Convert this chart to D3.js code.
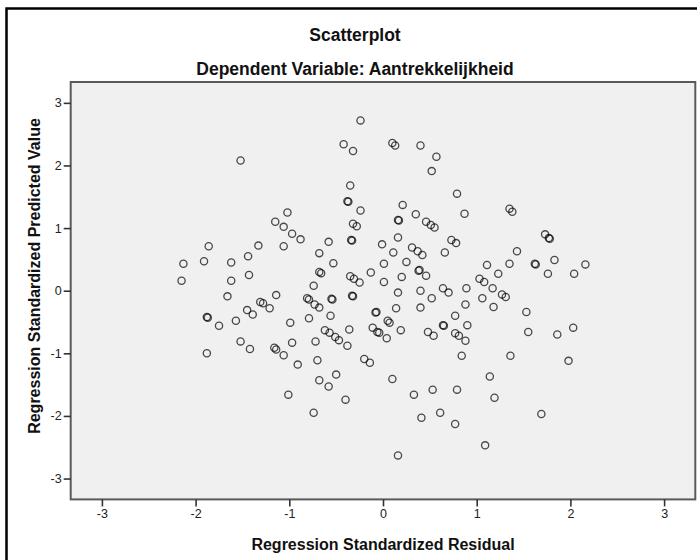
<!DOCTYPE html>
<html>
<head>
<meta charset="utf-8">
<script src="https://cdn.jsdelivr.net/npm/d3@7"></script>
<style>
  body { margin: 0; background: #fff; }
  svg { display: block; font-family: "Liberation Sans", Arial, sans-serif; }
</style>
</head>
<body>
<svg id="chart" width="697" height="560"></svg>
<script>
// residuals (x) and predicted values (y)
const residual = [
  -1.52, -1.86, -1.33, -2.13, -1.91, -1.62, -1.44, -2.15, -1.62, -1.43,
  -1.66, -1.31, -1.28, -1.21, -1.88, -1.87, -1.75, -1.57, -1.45, -1.39,
  -1.52, -1.42, -1.88,
  -1.14, -0.81, -0.79, -0.73, -0.68, -0.55, -0.54, -0.33, -0.32, -0.99,
  -0.79, -0.56, -0.62, -0.57, -0.51, -0.47, -0.36, -0.38, -0.97, -1.16,
  -1.14, -1.06, -0.91, -0.72, -0.70, -0.50, -0.68, -0.58, -1.01, -0.40,
  -0.74, -0.20, -0.14, -0.11, -0.08, -0.07, -0.06, -0.04, 0.04, 0.05,
  0.07, 0.14, 0.16, 0.19, 0.10, 0.16, 0.33, 0.41, 0.53, 0.61,
  0.77, 0.79, 0.84, 0.40, 0.48, 0.54, 0.52, 0.40, 0.64, 0.65,
  0.77, 0.77, 0.81, 0.88, 0.88, 0.90, 0.64, 0.70, 0.89,
  1.06, 1.18, 1.17, 1.27, 1.31, 1.53, 1.55, 1.36, 1.86, 2.03,
  1.98, 1.14, 1.19, 1.69, 1.09,
  1.35, 1.38, 1.43, 1.73, 1.78, 1.77, 1.11, 1.35, 1.63, 1.62,
  1.83, 2.16, 1.23, 1.76, 2.04, 1.03, 1.08,
  -0.24, -0.42, -0.32, 0.10, 0.13, 0.40, 0.57, 0.52, -0.35, -0.38,
  -0.37, -0.24, 0.21, 0.79, 0.87, 0.35, 0.46, 0.51, 0.55, 0.16,
  0.17, -0.32, -0.28, -1.02, -1.15, -1.06, -0.97, -0.88, -1.06, -0.34,
  -0.33, -0.58, -0.68, -0.53, -0.68, -0.66, -0.74, -0.35, -0.31, -0.25,
  -0.13, -0.01, 0.11, 0.16, 0.01, 0.01, 0.25, 0.20, 0.31, 0.37,
  0.42, 0.66, 0.39, 0.38, 0.46, 0.73, 0.78
];
const predicted = [
  2.08, 0.71, 0.72, 0.43, 0.47, 0.45, 0.55, 0.16, 0.16, 0.25,
  -0.09, -0.18, -0.20, -0.28, -0.42, -0.43, -0.56, -0.48, -0.31, -0.38,
  -0.81, -0.93, -1.00,
  -0.07, -0.12, -0.14, -0.22, -0.27, -0.13, -0.14, -0.08, -0.09, -0.51,
  -0.44, -0.40, -0.63, -0.67, -0.74, -0.79, -0.62, -0.88, -0.83, -0.91,
  -0.94, -1.03, -1.18, -0.81, -1.11, -1.34, -1.43, -1.53, -1.66, -1.74,
  -1.95, -1.09, -1.15, -0.59, -0.35, -0.34, -0.66, -0.67, -0.76, -0.48,
  -0.51, -0.28, -0.03, -0.63, -1.41, -2.63, -1.66, -2.03, -1.58, -1.95,
  -2.13, -1.58, -1.04, -0.27, -0.66, -0.72, -0.12, 0.00, -0.55, -0.56,
  -0.40, -0.68, -0.72, -0.80, -0.22, -0.55, 0.04, -0.03, 0.04,
  -0.12, -0.26, 0.04, -0.06, -0.10, -0.34, -0.66, -1.04, -0.70, -0.59,
  -1.12, -1.37, -1.71, -1.97, -2.47,
  1.31, 1.26, 0.63, 0.90, 0.83, 0.84, 0.41, 0.43, 0.42, 0.43,
  0.49, 0.42, 0.27, 0.27, 0.27, 0.19, 0.14,
  2.72, 2.34, 2.23, 2.36, 2.32, 2.32, 2.14, 1.91, 1.68, 1.43,
  1.42, 1.28, 1.37, 1.55, 1.23, 1.22, 1.10, 1.05, 1.01, 1.13,
  1.12, 1.07, 1.03, 1.25, 1.10, 1.02, 0.91, 0.82, 0.71, 0.81,
  0.80, 0.78, 0.60, 0.44, 0.30, 0.28, 0.08, 0.23, 0.19, 0.13,
  0.29, 0.74, 0.61, 0.85, 0.43, 0.14, 0.46, 0.22, 0.69, 0.63,
  0.57, 0.61, 0.33, 0.32, 0.24, 0.81, 0.76
];
const xTicks = [-3, -2, -1, 0, 1, 2, 3];
const yTicks = [-3, -2, -1, 0, 1, 2, 3];

const svg = d3.select("#chart");

// plot area
const plotLeft = 70.7, plotRight = 695.3, plotTop = 82.0, plotBottom = 499.4;

const x = d3.scaleLinear().domain([-3.333, 3.333]).range([plotLeft, plotRight]);
const y = d3.scaleLinear().domain([-3.333, 3.333]).range([plotBottom, plotTop]);

// outer frame (cropped on the right and bottom)
svg.append("rect")
  .attr("x", 6.5).attr("y", 8.5)
  .attr("width", 720).attr("height", 600)
  .attr("fill", "#fff")
  .attr("stroke", "#000")
  .attr("stroke-width", 2.5);

// titles
svg.append("text")
  .attr("x", 355).attr("y", 40.5)
  .attr("text-anchor", "middle")
  .attr("font-size", 17.5).attr("font-weight", "bold").attr("fill", "#111")
  .text("Scatterplot");
svg.append("text")
  .attr("x", 355).attr("y", 75)
  .attr("text-anchor", "middle")
  .attr("font-size", 17.5).attr("font-weight", "bold").attr("fill", "#111")
  .text("Dependent Variable: Aantrekkelijkheid");

// plot background
svg.append("rect")
  .attr("x", plotLeft).attr("y", plotTop)
  .attr("width", plotRight - plotLeft).attr("height", plotBottom - plotTop)
  .attr("fill", "#f0f0f0")
  .attr("stroke", "#5a5a5a")
  .attr("stroke-width", 2);

// axes (plain hyphen minus like SPSS)
const fmt = (d) => String(d);
const xAxis = svg.append("g")
  .attr("transform", `translate(0,${plotBottom})`)
  .call(d3.axisBottom(x).tickValues(xTicks).tickFormat(fmt)
    .tickSize(7).tickPadding(3).tickSizeOuter(0));
const yAxis = svg.append("g")
  .attr("transform", `translate(${plotLeft},0)`)
  .call(d3.axisLeft(y).tickValues(yTicks).tickFormat(fmt)
    .tickSize(7).tickPadding(2).tickSizeOuter(0));

[xAxis, yAxis].forEach((g) => {
  g.select(".domain").remove();
  g.selectAll(".tick line").attr("stroke", "#333").attr("stroke-width", 1.6);
  g.selectAll(".tick text")
    .attr("fill", "#222")
    .attr("font-size", 12.5)
    .attr("font-family", "Liberation Sans, Arial, sans-serif");
});

// axis titles
svg.append("text")
  .attr("x", 383).attr("y", 550)
  .attr("text-anchor", "middle")
  .attr("font-size", 16).attr("font-weight", "bold").attr("fill", "#111")
  .text("Regression Standardized Residual");
svg.append("text")
  .attr("transform", "translate(40,276) rotate(-90)")
  .attr("text-anchor", "middle")
  .attr("font-size", 16).attr("font-weight", "bold").attr("fill", "#111")
  .text("Regression Standardized Predicted Value");

// points
const points = residual.map((r, i) => ({ r: r, p: predicted[i] }));
svg.append("g")
  .selectAll("circle")
  .data(points)
  .join("circle")
  .attr("cx", (d) => x(d.r))
  .attr("cy", (d) => y(d.p))
  .attr("r", 3.6)
  .attr("fill", "none")
  .attr("stroke", "#000")
  .attr("stroke-opacity", 0.7)
  .attr("stroke-width", 1.3);
</script>
</body>
</html>
